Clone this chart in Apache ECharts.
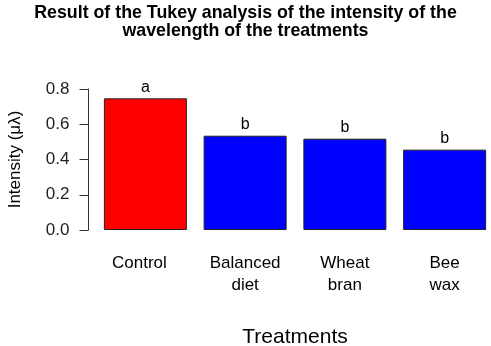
<!DOCTYPE html>
<html>
<head>
<meta charset="utf-8">
<script src="https://cdn.jsdelivr.net/npm/echarts@6/dist/echarts.min.js"></script>
<style>
html,body{margin:0;padding:0;background:#fff;}
#c{width:491px;height:346px;}
</style>
</head>
<body>
<div id="c"></div>
<script>
const categories = ['Control', 'Balanced\ndiet', 'Wheat\nbran', 'Bee\nwax'];
const intensity = [0.747, 0.535, 0.518, 0.456];
const tukeyLetters = ['a', 'b', 'b', 'b'];
const yTicks = [0, 0.2, 0.4, 0.6, 0.8];

const chart = echarts.init(document.getElementById('c'), null, {renderer: 'canvas'});
const font = 'Liberation Sans, Arial, sans-serif';
chart.setOption({
  animation: false,
  backgroundColor: '#ffffff',
  title: {
    text: 'Result of the Tukey analysis of the intensity of the\nwavelength of the treatments',
    left: 'center',
    top: -1,
    textStyle: {fontFamily: font, fontSize: 17.8, fontWeight: 'bold', color: '#000', lineHeight: 18}
  },
  grid: {left: 95.5, width: 399, top: 89, height: 141, outerBoundsMode: 'none', containLabel: false},
  xAxis: {
    type: 'category',
    data: categories.map((c, i) => i === 0 ? {value: c, textStyle: {padding: [0, 12, 0, 0]}} : c),
    axisLine: {show: false},
    axisTick: {show: false},
    axisLabel: {fontFamily: font, fontSize: 17, color: '#000', lineHeight: 22, margin: 22, interval: 0},
    name: 'Treatments',
    nameLocation: 'middle',
    nameGap: 97,
    nameTextStyle: {fontFamily: font, fontSize: 21, color: '#000'}
  },
  yAxis: {
    type: 'value',
    min: yTicks[0],
    max: yTicks[yTicks.length - 1],
    interval: 0.2,
    offset: 7,
    splitLine: {show: false},
    axisLine: {show: true, lineStyle: {color: '#333', width: 1}},
    axisTick: {show: true, length: 9, lineStyle: {color: '#333'}},
    axisLabel: {fontFamily: font, fontSize: 17, color: '#222', margin: 19, formatter: v => v.toFixed(1)},
    name: 'Intensity (μλ)',
    nameLocation: 'middle',
    nameRotate: 90,
    nameGap: 65,
    nameTextStyle: {fontFamily: font, fontSize: 17, color: '#000'}
  },
  series: [{
    type: 'bar',
    data: intensity,
    barWidth: 83,
    itemStyle: {
      color: p => p.dataIndex === 0 ? '#ff0000' : '#0000ff',
      borderColor: '#222',
      borderWidth: 1
    },
    label: {
      show: true,
      position: 'top',
      distance: 3,
      fontFamily: font,
      fontSize: 16,
      color: '#000',
      formatter: p => tukeyLetters[p.dataIndex]
    }
  }]
});
</script>
</body>
</html>
